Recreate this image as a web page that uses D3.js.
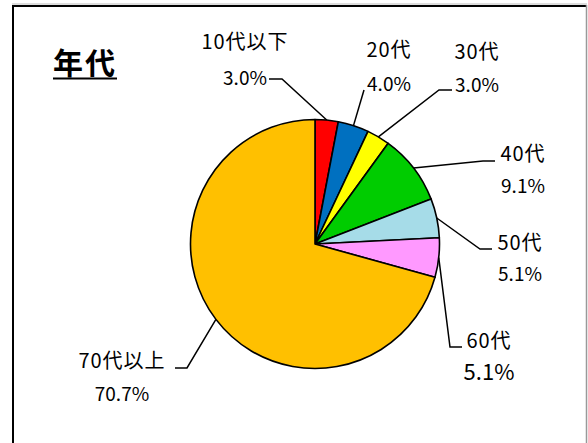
<!DOCTYPE html>
<html>
<head>
<meta charset="utf-8">
<script src="https://cdn.jsdelivr.net/npm/d3@7"></script>
<style>
  html, body { margin: 0; padding: 0; background: #fff; }
  svg { display: block; }
</style>
</head>
<body>
<div id="chart"></div>
<script>
const categories = ['10代以下', '20代', '30代', '40代', '50代', '60代', '70代以上'];
const values = [3.0, 4.0, 3.0, 9.1, 5.1, 5.1, 70.7];
const colors = ['#FF0000', '#0070C0', '#FFFF00', '#00CC00', '#A6DCE8', '#FF99FF', '#FFC000'];

// label layout: text centre, baselines of the two lines, leader end + elbow
const labelLayout = [
  { cx: 245, b1: 49, b2: 85, end: [269, 79], elbow: [282, 79] },
  { cx: 389, b1: 57, b2: 91, end: [364, 90], elbow: [364, 90] },
  { cx: 477, b1: 59, b2: 92, end: [452, 90], elbow: [439, 90] },
  { cx: 523, b1: 161, b2: 193, end: [495, 161], elbow: [483, 161] },
  { cx: 520, b1: 250, b2: 281, end: [492, 249], elbow: [480, 249] },
  { cx: 489, b1: 348, b2: 380, end: [462, 347], elbow: [450, 347], big: true },
  { cx: 122, b1: 368, b2: 401, end: [175, 368], elbow: [187, 368] }
];

const width = 588, height = 443;
const cx = 315, cy = 244, radius = 124.5;
const font = "'Noto Sans CJK JP', 'Noto Sans', sans-serif";

const svg = d3.select('#chart')
  .append('svg')
  .attr('width', width)
  .attr('height', height)
  .attr('viewBox', `0 0 ${width} ${height}`)
  .attr('font-family', font);

// frame
svg.append('line').attr('x1', 12).attr('x2', 587).attr('y1', 4).attr('y2', 4)
  .attr('stroke', '#bbb').attr('stroke-width', 1);
svg.append('line').attr('x1', 13).attr('x2', 586).attr('y1', 6).attr('y2', 6)
  .attr('stroke', '#000').attr('stroke-width', 2);
svg.append('line').attr('x1', 13).attr('x2', 13).attr('y1', 5).attr('y2', height)
  .attr('stroke', '#000').attr('stroke-width', 2);
svg.append('line').attr('x1', 586.5).attr('x2', 586.5).attr('y1', 5).attr('y2', height)
  .attr('stroke', '#999').attr('stroke-width', 1.5);

// title
const title = svg.append('text')
  .attr('x', 53)
  .attr('y', 74)
  .attr('font-size', 30)
  .attr('font-weight', 'bold')
  .attr('letter-spacing', 2)
  .text('年代');
const tw = title.node().getComputedTextLength();
svg.append('line')
  .attr('x1', 53).attr('x2', 53 + tw)
  .attr('y1', 78.5).attr('y2', 78.5)
  .attr('stroke', '#000').attr('stroke-width', 2);

const data = categories.map((c, i) => ({ category: c, value: values[i], color: colors[i], layout: labelLayout[i] }));

const pie = d3.pie()
  .value(d => d.value)
  .sort(null);

const arc = d3.arc()
  .innerRadius(0)
  .outerRadius(radius);

const arcs = pie(data);

const g = svg.append('g')
  .attr('transform', `translate(${cx},${cy})`);

g.selectAll('path')
  .data(arcs)
  .join('path')
  .attr('d', arc)
  .attr('fill', d => d.data.color)
  .attr('stroke', '#000')
  .attr('stroke-width', 1.6)
  .attr('stroke-linejoin', 'round');

// leader lines
svg.selectAll('polyline.leader')
  .data(arcs)
  .join('polyline')
  .classed('leader', true)
  .attr('points', d => {
    const a = (d.startAngle + d.endAngle) / 2;
    const px = cx + radius * Math.sin(a);
    const py = cy - radius * Math.cos(a);
    const L = d.data.layout;
    return [L.end, L.elbow, [px, py]].map(p => p.join(',')).join(' ');
  })
  .attr('fill', 'none')
  .attr('stroke', '#000')
  .attr('stroke-width', 1.5);

// labels
const labels = svg.selectAll('g.label')
  .data(arcs)
  .join('g')
  .classed('label', true)
  .attr('text-anchor', 'middle')
  .attr('fill', '#000');

labels.append('text')
  .attr('x', d => d.data.layout.cx)
  .attr('y', d => d.data.layout.b1)
  .attr('font-size', 20)
  .attr('letter-spacing', 1)
  .text(d => d.data.category);

labels.append('text')
  .attr('x', d => d.data.layout.cx)
  .attr('y', d => d.data.layout.b2)
  .attr('font-size', d => d.data.layout.big ? 22 : 19)
  .text(d => d.data.value.toFixed(1) + '%');
</script>
</body>
</html>
